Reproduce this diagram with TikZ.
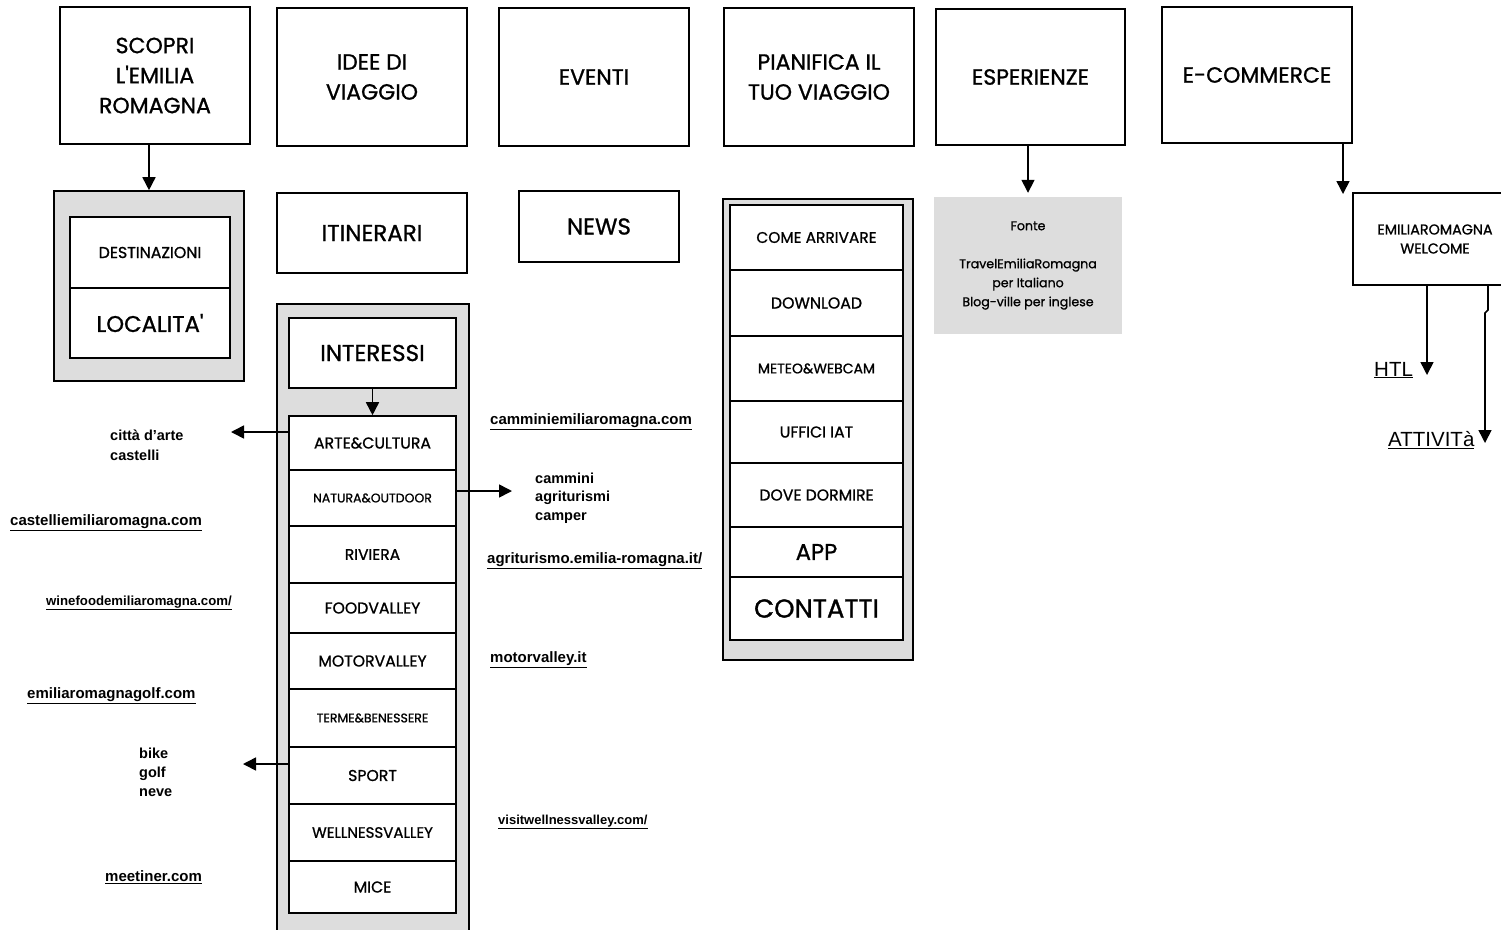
\documentclass[tikz,border=0pt]{standalone}
\usepackage{fontspec}
\usepackage{tikz}
\usetikzlibrary{arrows.meta}
\setmainfont{Liberation Sans}
\newfontfamily\boxfont[FakeBold=1]{Poppins}
\definecolor{boxgrey}{HTML}{DDDDDD}

\tikzset{
  box/.style={draw, line width=1.6pt, align=center, inner sep=0pt},
  fs/.style 2 args={font=\boxfont\fontsize{#1}{#2}\selectfont},
  greybox/.style={box, fill=boxgrey},
  item/.style={box, fill=white, minimum width=167pt},
  planitem/.style={box, fill=white, minimum width=173pt},
  link/.style={anchor=west, inner sep=0pt, font=\bfseries\fontsize{15}{19}\selectfont},
  arr/.style={-{Triangle[length=13pt,width=13pt]}, line width=1.6pt}
}

\begin{document}
\begin{tikzpicture}[x=1pt,y=-1pt]
\useasboundingbox (0,0) rectangle (1501,929);
\fill[white] (0,0) rectangle (1501,929);

\node[box, fs={22}{30}, minimum width=190pt, minimum height=137pt] (scopri) at (155,75.5) {SCOPRI\\L'EMILIA\\ROMAGNA};
\node[box, fs={22}{30}, minimum width=190pt, minimum height=138pt] (idee) at (372,77) {IDEE DI\\VIAGGIO};
\node[box, fs={22}{30}, minimum width=190pt, minimum height=138pt] (eventi) at (594,77) {EVENTI};
\node[box, fs={22}{30}, minimum width=190pt, minimum height=138pt] (pianifica) at (819,77) {PIANIFICA IL\\TUO VIAGGIO};
\node[box, fs={22}{30}, minimum width=189pt, minimum height=136pt] (esper) at (1030.5,77) {ESPERIENZE};
\node[box, fs={22}{30}, minimum width=190pt, minimum height=136pt] (ecom) at (1257,75) {E-COMMERCE};

\node[greybox, minimum width=190pt, minimum height=190pt] (destgrp) at (149,286) {};
\node[box, fill=white, fs={15.8}{19}, minimum width=160pt, minimum height=71pt] (destinazioni) at (150,252.5) {DESTINAZIONI};
\node[box, fill=white, fs={22.7}{26}, minimum width=160pt, minimum height=70pt] (localita) at (150,323) {LOCALITA'};

\node[box, fs={23}{28}, minimum width=190pt, minimum height=80pt] (itinerari) at (372,233) {ITINERARI};
\node[box, fs={23}{28}, minimum width=160pt, minimum height=71pt] (news) at (599,226.5) {NEWS};

\node[greybox, minimum width=192pt, minimum height=641pt] (intgrp) at (373,624.5) {};
\node[box, fill=white, fs={23}{28}, minimum width=167pt, minimum height=70pt] (interessi) at (372.5,353) {INTERESSI};
\node[item, fs={15.7}{19}, minimum height=54pt] (arte) at (372.5,443) {ARTE\&CULTURA};
\node[item, fs={12.5}{15}, minimum height=56pt] (natura) at (372.5,498) {NATURA\&OUTDOOR};
\node[item, fs={15.5}{19}, minimum height=57pt] (riviera) at (372.5,554.5) {RIVIERA};
\node[item, fs={15.7}{19}, minimum height=50pt] (food) at (372.5,608) {FOODVALLEY};
\node[item, fs={15.7}{19}, minimum height=56pt] (motor) at (372.5,661) {MOTORVALLEY};
\node[item, fs={12.5}{15}, minimum height=58pt] (terme) at (372.5,718) {TERME\&BENESSERE};
\node[item, fs={15.7}{19}, minimum height=57pt] (sport) at (372.5,775.5) {SPORT};
\node[item, fs={15}{18}, minimum height=57pt] (wellness) at (372.5,832.5) {WELLNESSVALLEY};
\node[item, fs={15.7}{19}, minimum height=52pt] (mice) at (372.5,887) {MICE};

\node[greybox, minimum width=190pt, minimum height=461pt] (plangrp) at (818,429.5) {};
\node[planitem, fs={15.4}{19}, minimum height=65pt] (arrivare) at (816.5,237.5) {COME ARRIVARE};
\node[planitem, fs={15.8}{19}, minimum height=66pt] (download) at (816.5,303) {DOWNLOAD};
\node[planitem, fs={14}{17}, minimum height=65pt] (meteo) at (816.5,368.5) {METEO\&WEBCAM};
\node[planitem, fs={15.7}{19}, minimum height=62pt] (uffici) at (816.5,432) {UFFICI IAT};
\node[planitem, fs={15.7}{19}, minimum height=64pt] (dormire) at (816.5,495) {DOVE DORMIRE};
\node[planitem, fs={22.7}{26}, minimum height=50pt] (app) at (816.5,552) {APP};
\node[planitem, fs={26}{30}, minimum height=63pt] (contatti) at (816.5,608.5) {CONTATTI};

\node[fill=boxgrey, align=center, inner sep=0pt, fs={12.6}{19}, minimum width=188pt, minimum height=137pt] (fonte) at (1028,265.5)
  {Fonte\\ \\TravelEmiliaRomagna\\per Italiano\\Blog-ville per inglese};
\node[box, fs={14.3}{19}, minimum width=164pt, minimum height=92pt] (welcome) at (1435,239) {EMILIAROMAGNA\\WELCOME};

\node[link, align=left, font=\bfseries\fontsize{14.5}{20}\selectfont] (artetxt) at (110,445) {città d'arte\\castelli};
\node[link, align=left, font=\bfseries\fontsize{14.5}{19}\selectfont] (sporttxt) at (139,772) {bike\\golf\\neve};
\node[link, align=left, font=\bfseries\fontsize{14.5}{18.5}\selectfont] (naturatxt) at (535,498) {cammini\\agriturismi\\camper};

\node[link] (castelli) at (10,523) {\underline{castelliemiliaromagna.com}};
\node[link, font=\bfseries\fontsize{13.2}{15}\selectfont] (winefood) at (46,603) {\underline{winefoodemiliaromagna.com/}};
\node[link] (golf) at (27,696) {\underline{emiliaromagnagolf.com}};
\node[link] (meetiner) at (105,877) {\underline{meetiner.com}};
\node[link] (cammini) at (490,422) {\underline{camminiemiliaromagna.com}};
\node[link] (agri) at (487,561) {\underline{agriturismo.emilia-romagna.it/}};
\node[link] (motorlink) at (490,660) {\underline{motorvalley.it}};
\node[link, font=\bfseries\fontsize{13}{15}\selectfont] (visitwell) at (498,822) {\underline{visitwellnessvalley.com/}};
\node[link, font=\fontsize{20.5}{24}\selectfont] (htl) at (1374,370) {\underline{HTL}};
\node[link, font=\fontsize{20.5}{24}\selectfont] (attivita) at (1388,440) {\underline{ATTIVITà}};

\coordinate (arteend) at (231,432);
\coordinate (natend) at (512,491);
\coordinate (sportend) at (243,764);
\coordinate (ecomend) at (1343,194);
\coordinate (htlend) at (1427,375);
\coordinate (attstart) at (1488,310);
\coordinate (attend) at (1485,443);

\draw[arr] (scopri.south -| destgrp.north) -- (destgrp.north);
\draw[arr] (interessi.south) -- (arte.north);
\draw[arr] (arte.west |- arteend) -- (arteend);
\draw[arr] (natura.east |- natend) -- (natend);
\draw[arr] (sport.west |- sportend) -- (sportend);
\draw[arr, shorten >=4pt] (esper.south -| fonte.north) -- (fonte.north);
\draw[arr] (ecom.south -| ecomend) -- (ecomend);
\draw[arr] (welcome.south -| htlend) -- (htlend);
\draw[arr] (welcome.south -| attstart) -- (attstart) -- ++(-3,3) -- (attend);
\end{tikzpicture}
\end{document}
